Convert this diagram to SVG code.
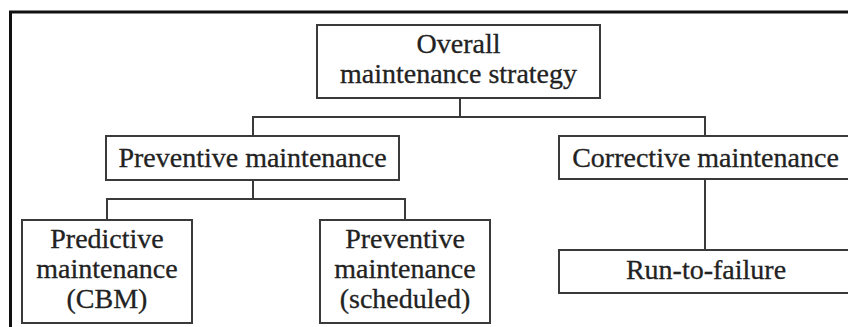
<svg xmlns="http://www.w3.org/2000/svg" width="848" height="327" viewBox="0 0 848 327">
<style>
.box{fill:#fff;stroke:#3a3a3a;stroke-width:2}
.t{font-family:"Liberation Serif","Times New Roman",serif;font-size:28px;fill:#222;stroke:#222;stroke-width:0.3;text-anchor:middle}
.c{fill:none;stroke:#3a3a3a;stroke-width:2}
</style>
<rect x="0" y="0" width="848" height="327" fill="#fff"/>
<path d="M10.5,330 V12 H850" fill="none" stroke="#111" stroke-width="3"/>
<g id="connectors">
<path class="c" d="M460,98 V117 M253,136 V117 H705 V136"/>
<path class="c" d="M253,180 V199 M107,220 V199 H405 V220"/>
<path class="c" d="M705,180 V250"/>
</g>
<g id="overall">
<rect class="box" x="317" y="25" width="283" height="73"/>
<text class="t" x="458.5" y="53">Overall</text>
<text class="t" x="458.5" y="83">maintenance strategy</text>
</g>
<g id="preventive">
<rect class="box" x="106" y="136" width="293" height="44"/>
<text class="t" x="252.5" y="167">Preventive maintenance</text>
</g>
<g id="corrective">
<rect class="box" x="559" y="136" width="300" height="43"/>
<text class="t" x="705.5" y="167">Corrective maintenance</text>
</g>
<g id="predictive">
<rect class="box" x="22" y="220" width="170" height="103"/>
<text class="t" x="107" y="248">Predictive</text>
<text class="t" x="107" y="278">maintenance</text>
<text class="t" x="107" y="308">(CBM)</text>
</g>
<g id="scheduled">
<rect class="box" x="320" y="220" width="170" height="103"/>
<text class="t" x="405" y="248">Preventive</text>
<text class="t" x="405" y="278">maintenance</text>
<text class="t" x="405" y="308">(scheduled)</text>
</g>
<g id="run">
<rect class="box" x="559" y="250" width="300" height="43"/>
<text class="t" x="706" y="279">Run-to-failure</text>
</g>
</svg>
